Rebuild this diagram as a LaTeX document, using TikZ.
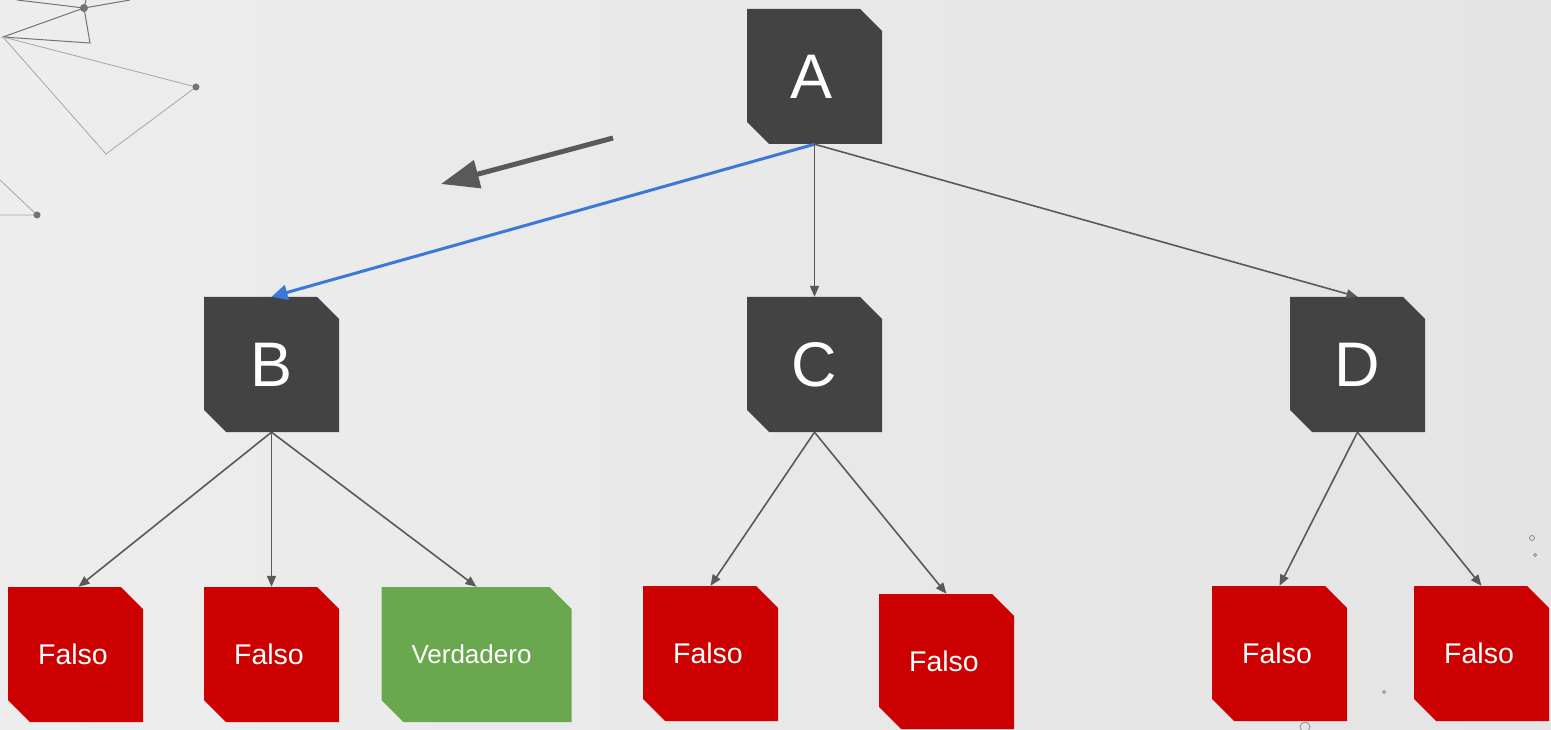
\documentclass[tikz,border=0pt]{standalone}
\usepackage{fontspec}
\setmainfont{Liberation Sans}
\usetikzlibrary{arrows.meta}
\definecolor{darkbox}{HTML}{434343}
\definecolor{redbox}{HTML}{CC0000}
\definecolor{greenbox}{HTML}{6AA84F}
\definecolor{edgecol}{HTML}{595959}
\definecolor{bluecol}{HTML}{3C78D8}
\definecolor{bgl}{HTML}{EDEDED}
\definecolor{bgr}{HTML}{E4E4E4}
\tikzset{
  cbox/.style={minimum width=135pt, minimum height=135pt, inner sep=0pt, text=white,
    path picture={\fill[#1] (path picture bounding box.north west)
      -- ([xshift=-22pt]path picture bounding box.north east)
      -- ([yshift=-22pt]path picture bounding box.north east)
      -- (path picture bounding box.south east)
      -- ([xshift=22pt]path picture bounding box.south west)
      -- ([yshift=22pt]path picture bounding box.south west) -- cycle;}},
  inner/.style={cbox=darkbox, font=\fontsize{63}{63}\selectfont},
  falso/.style={cbox=redbox, font=\fontsize{28.5}{28.5}\selectfont},
  verd/.style={cbox=greenbox, minimum width=190pt, font=\fontsize{26}{26}\selectfont},
  edge/.style={draw=edgecol, line width=1.6pt, -{Triangle[length=11pt,width=9pt]}},
  bedge/.style={draw=bluecol, line width=3pt, -{Triangle[length=16pt,width=15pt]}},
  deco/.style={draw=gray!70, line width=0.8pt},
  decod/.style={draw=gray!90!black, line width=1pt},
  dot/.style={fill=gray!90!black},
  ring/.style={draw=gray, line width=0.7pt}
}
\newcommand{\fal}{Falso\kern5pt}
\begin{document}
\begin{tikzpicture}[x=1pt,y=-1pt]
\shade[left color=bgl, right color=bgr] (0,0) rectangle (1551,730);
\useasboundingbox (0,0) rectangle (1551,730);
% decorative network
\draw[decod] (17,0) -- (84,8) -- (130,0);
\draw[decod] (84,8) -- (3,37) -- (90,43) -- (84,8);
\draw[decod] (84,8) -- (86,0);
\draw[deco] (3,37) -- (196,87) -- (106,154) -- (3,37);
\draw[deco] (0,180) -- (37,215) -- (0,215);
\fill[dot] (84,8) circle (4pt);
\fill[dot] (196,87) circle (3.5pt);
\fill[dot] (37,215) circle (3.5pt);
\draw[ring] (1532,538) circle (2.5pt);
\draw[ring] (1535,555) circle (1.5pt);
\draw[ring] (1384,692) circle (1.5pt);
\draw[ring] (1305,727) circle (5pt);
% decorative arrow
\coordinate (da1) at (613,138);
\coordinate (da2) at (441,184);
\draw[edgecol, line width=5pt, -{Triangle[length=38pt,width=28pt]}] (da1) -- (da2);
% nodes
\node[inner] (A) at (814.5,76.5) {A\kern5pt};
\node[inner] (B) at (271.5,364.5) {B};
\node[inner] (C) at (814.5,364.5) {C};
\node[inner] (D) at (1357.5,364.5) {D};
\node[falso] (B1) at (75.5,654.5) {\fal};
\node[falso] (B2) at (271.5,654.5) {\fal};
\node[verd] (B3) at (476.5,654.5) {Verdadero\kern10pt};
\node[falso] (C1) at (710.5,653.5) {\fal};
\node[falso] (C2) at (946.5,661.5) {\fal};
\node[falso] (D1) at (1279.5,653.5) {\fal};
\node[falso] (D2) at (1481.5,653.5) {\fal};
% edges
\draw[bedge] (A.south) -- (B.north);
\draw[edge] (A.south) -- (C.north);
\draw[edge] (A.south) -- (D.north);
\draw[edge] (B.south) -- ([xshift=3pt]B1.north);
\draw[edge] (B.south) -- (B2.north);
\draw[edge] (B.south) -- (B3.north);
\draw[edge] (C.south) -- (C1.north);
\draw[edge] (C.south) -- (C2.north);
\draw[edge] (D.south) -- (D1.north);
\draw[edge] (D.south) -- (D2.north);
\end{tikzpicture}
\end{document}
